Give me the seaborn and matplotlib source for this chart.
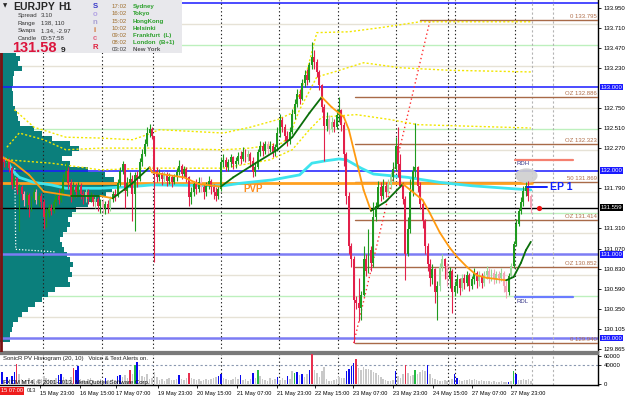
import numpy as np
import pandas as pd
import matplotlib
matplotlib.use("Agg")
import matplotlib.pyplot as plt
import matplotlib.transforms as mtrans
from matplotlib.patches import Rectangle, Ellipse
import seaborn as sns

sns.set_theme(style="white")
plt.rcParams["font.family"] = ["Liberation Sans", "DejaVu Sans"]

# ---------------- data ----------------
open0 = 132.20
close = [132.15,132.10,132.13,132.03,131.83,131.91,131.77,131.80,131.72,131.65,
         131.71,131.59,131.67,131.75,131.65,131.70,131.63,131.45,131.50,131.56,
         131.52,131.62,131.70,131.65,131.74,131.90,132.00,131.85,131.70,131.80,
         131.75,131.82,131.72,131.68,131.74,131.66,131.70,131.62,131.66,131.58,
         131.62,131.56,131.60,131.55,131.66,131.72,131.70,131.85,132.00,132.08,
         131.76,131.85,131.90,131.72,131.95,131.90,132.10,132.20,132.32,132.45,
         132.50,132.42,132.00,131.92,131.97,131.90,131.95,131.88,131.93,131.86,
         131.92,131.98,132.06,131.96,132.02,131.92,131.68,131.74,131.84,131.78,
         131.86,131.80,131.74,131.82,131.88,131.80,131.74,131.70,131.78,132.10,
         132.13,132.05,132.10,132.16,132.08,132.12,132.18,132.14,132.22,132.16,
         132.20,132.12,131.98,132.05,132.22,132.30,132.24,132.32,132.26,132.30,
         132.22,132.28,132.45,132.60,132.52,132.42,132.36,132.46,132.68,132.80,
         132.92,132.86,133.05,133.14,133.08,133.26,133.36,133.30,133.18,133.02,
         132.76,132.54,132.62,132.50,132.58,132.52,132.66,132.72,132.55,132.20,
         131.70,131.10,130.95,130.46,130.42,130.36,130.52,130.95,130.80,131.05,
         130.90,131.45,131.58,131.80,131.70,131.82,131.74,131.84,131.92,132.02,
         132.30,132.08,131.82,131.66,131.00,131.30,131.75,132.00,132.04,131.82,
         131.60,131.40,131.10,130.88,130.72,130.82,130.55,130.62,130.85,130.95,
         130.86,130.70,130.80,130.55,130.62,130.70,130.60,130.72,130.66,130.75,
         130.62,130.70,130.78,130.68,130.74,130.66,130.75,130.80,130.72,130.78,
         130.70,130.76,130.72,130.78,130.62,130.55,130.74,130.86,131.12,131.36,
         131.52,131.62,131.76,131.82,131.70,131.56]
high = [132.24,132.18,132.17,132.15,132.06,131.95,131.93,131.84,131.83,131.76,
        131.74,131.73,131.70,131.79,131.78,131.74,131.73,131.66,131.56,131.60,
        131.60,131.66,131.76,131.78,131.79,131.96,132.10,132.05,131.90,131.86,
        131.85,131.86,131.85,131.76,131.78,131.78,131.75,131.72,131.70,131.68,
        131.66,131.66,131.64,131.65,131.70,131.76,131.78,131.90,132.05,132.12,
        132.08,131.92,131.98,131.95,131.98,132.00,132.15,132.26,132.38,132.52,
        132.56,132.52,132.42,132.04,132.02,131.99,132.00,131.98,131.97,131.95,
        131.96,132.03,132.13,132.08,132.06,132.04,131.94,131.80,131.88,131.90,
        131.92,131.92,131.84,131.86,131.94,131.90,131.84,131.80,131.82,132.16,
        132.20,132.16,132.14,132.20,132.18,132.16,132.22,132.24,132.28,132.26,
        132.25,132.22,132.16,132.10,132.26,132.36,132.34,132.36,132.36,132.35,
        132.33,132.32,132.52,132.68,132.64,132.56,132.48,132.52,132.74,132.86,
        132.98,132.98,133.10,133.20,133.22,133.30,133.54,133.44,133.34,133.20,
        133.04,132.80,132.70,132.66,132.64,132.62,132.74,132.88,132.74,132.58,
        132.22,131.74,131.14,130.98,130.50,130.72,130.56,131.10,131.00,131.30,
        131.10,131.62,131.62,131.88,131.86,131.90,131.86,131.90,131.98,132.10,
        132.40,132.52,132.20,131.86,131.70,131.45,131.90,132.06,132.57,132.06,
        131.86,131.64,131.42,131.14,130.94,130.88,130.84,130.68,130.90,131.00,
        130.96,130.90,130.85,130.82,130.68,130.76,130.72,130.76,130.76,130.80,
        130.78,130.74,130.84,130.80,130.80,130.78,130.80,130.86,130.84,130.82,
        130.82,130.80,130.80,130.84,130.80,130.68,130.78,130.90,131.16,131.42,
        131.56,131.68,131.82,131.86,131.88,131.72]
low = [132.08,132.05,132.04,131.98,131.78,131.80,131.72,131.28,131.65,131.58,
       131.55,131.45,131.52,131.62,131.60,131.58,131.55,131.30,131.33,131.45,
       131.47,131.50,131.58,131.60,131.62,131.72,131.88,131.78,131.62,131.66,
       131.68,131.70,131.66,131.60,131.63,131.60,131.62,131.58,131.55,131.52,
       131.50,131.50,131.48,131.50,131.52,131.62,131.64,131.68,131.82,131.96,
       131.55,131.70,131.80,131.40,131.28,131.80,131.88,132.06,132.18,132.30,
       132.40,132.38,130.91,131.86,131.88,131.83,131.86,131.82,131.84,131.80,
       131.84,131.88,131.95,131.90,131.92,131.86,131.58,131.60,131.70,131.72,
       131.74,131.74,131.66,131.70,131.78,131.72,131.66,131.64,131.66,131.76,
       132.04,132.00,132.00,132.05,132.02,132.03,132.08,132.08,132.12,132.10,
       132.12,132.05,131.92,131.94,132.02,132.18,132.18,132.20,132.20,132.22,
       132.16,132.18,132.24,132.40,132.46,132.36,132.30,132.32,132.44,132.62,
       132.76,132.80,132.84,133.00,133.02,133.06,133.22,133.22,133.12,132.96,
       132.70,132.12,132.48,132.44,132.46,132.46,132.50,132.58,132.48,132.06,
       131.60,131.00,130.85,129.94,130.35,130.20,130.22,130.50,130.74,130.78,
       130.80,130.85,131.40,131.55,131.64,131.66,131.68,131.72,131.78,131.88,
       132.00,131.92,131.80,131.60,130.69,130.98,131.25,131.70,131.92,131.74,
       131.54,131.32,131.00,130.80,130.62,130.64,130.42,130.22,130.56,130.80,
       130.70,130.62,130.60,130.30,130.50,130.54,130.52,130.56,130.58,130.62,
       130.56,130.58,130.64,130.60,130.62,130.60,130.62,130.70,130.66,130.68,
       130.64,130.66,130.66,130.68,130.55,130.48,130.52,130.72,130.84,131.10,
       131.34,131.48,131.58,131.70,131.64,131.50]

# tick volume (thousands) and SonicR PV class: g=normal, b=rising, r=climax bear, G=climax bull
volume_k = [25,10,15,12,18,26,42,22,12,8, 10,14,9,11,7,10,12,18,14,12,
            9,10,13,20,22,15,12,10,16,34, 30,38,12,10,8,11,14,9,7,10,
            12,8,14,10,8,12,10,18,20,15, 20,14,31,22,40,48,30,18,16,22,
            12,14,26,15,10,12,8,12,14,10, 9,11,20,12,10,14,24,14,12,9,
            11,8,10,12,9,11,14,16,18,22, 14,12,10,9,12,15,12,20,10,11,
            8,12,24,14,30,18,12,10,8,13, 9,12,16,10,14,9,18,12,28,24,
            26,20,22,16,22,30,66,30,24,15, 28,37,12,8,6,10,12,16,14,14,
            28,33,38,46,53,35,31,37,33,32, 30,27,24,20,15,12,10,8,7,10,
            28,18,14,22,40,24,18,20,30,22, 26,30,28,40,22,14,12,10,8,7,
            9,6,10,12,22,14,10,8,9,10, 11,9,12,10,8,9,7,8,6,5,
            6,4,5,6,4,5,4,6,28,22, 10,9,11,10,12,8]
volume_kind = ("bgbgbbrggg" "gggggggggg" "gggbbggggr" "bbgggggggg" "ggbggggbbg"
               "ggrgGbgggg" "gggggggggg" "ggbgggrggg" "ggggggggbb" "gggggggbgg"
               "ggbgGggggg" "ggbgggbggG" "bgbggbrggg" "gggggggggg" "bbbbrggggg"
               "gggggggggg" "bgggrgggGg" "gggbgggggg" "ggggbbgggg" "gggggggggg"
               "ggggggbgGb" "gggggg")

# volume-at-price profile (left histogram)
profile_start, profile_step = 129.98, 0.06
profile_vol = [10,10,12,13,18,22,28,35,42,48, 55,70,68,72,70,73,70,67,64,62,
               60,63,67,70,68,72,76,88,100,106, 112,117,114,105,88,70,62,72,79,70,
               52,42,34,20,18,17,15,13,13,13, 12,13,13,14,22,18,20,16,12,10]

# moving averages / bands (bar index, price)
ema_idx = [0,5,11,17,28,40,45,53,60,61,67,74,80,89,94,102,112,118,125,130,134,139,141,
           145,147,150,156,163,166,171,174,178,182,185,189,193,197,205,208,211,213,215]
ema_val = [132.16,132.09,131.95,131.75,131.70,131.70,131.67,131.85,132.04,131.98,131.95,
           131.92,131.84,131.81,131.92,132.07,132.25,132.40,132.69,132.88,132.76,132.64,
           132.49,132.01,131.77,131.52,131.63,131.84,131.77,131.65,131.49,131.26,131.08,
           130.97,130.85,130.75,130.72,130.69,130.73,130.90,131.05,131.15]
cyan_idx = [0,2,4,7,13,20,26,40,53,61,90,97,110,121,126,132,137,140,146,151,165,178,191,205,215]
cyan_val = [132.16,132.13,132.01,131.92,131.86,131.83,131.79,131.79,131.81,131.83,131.82,
            131.85,131.89,131.95,132.09,132.12,132.14,132.13,132.03,131.96,131.92,131.86,
            131.82,131.79,131.77]
band_up_idx = [5,13,26,40,53,59,64,90,101,112,118,123,128,141,154,170,215]
band_up_val = [132.73,132.52,132.40,132.39,132.37,132.43,132.49,132.45,132.52,132.61,
               132.69,133.08,133.65,133.66,133.71,133.78,133.78]
band_mid_idx = [2,7,17,26,40,60,90,101,114,117,121,128,135,147,162,182,215]
band_mid_val = [132.28,132.45,132.37,132.25,132.27,132.27,132.25,132.27,132.33,132.43,
                132.73,133.12,133.18,133.29,133.23,133.20,133.18]
band_lo_idx = [2,20,40,60,90,109,118,125,130,144,158,169,215]
band_lo_val = [132.13,132.09,132.01,132.03,132.03,132.13,132.25,132.49,132.64,132.67,
               132.61,132.55,132.51]

# levels
round_levels = [134.0, 133.0, 132.0]
round_levels_soft = [131.0, 130.0]
half_levels = [133.5, 132.5, 131.5, 130.5]
quarter_levels = [133.75, 133.25, 132.75, 132.25, 131.75, 131.25, 130.75, 130.25]
last_price = 131.559
pvp_price = 131.855
ep1_price = 131.80
rdh_price, rdl_price = 132.13, 130.49
fib_prices = [133.795, 132.886, 132.323, 131.869, 131.414, 130.852, 129.940]
fib_labels = ["0 133.795", "OZ 132.886", "OZ 132.323", "50 131.869", "OZ 131.414",
              "OZ 130.852", "0 129.940"]
fib_start = [170, 143.5, 143.5, 143.5, 143.5, 143.5, 143.5]
fib_base = ([143, 174], [129.94, 133.795])
day_breaks = [16.5, 40.5, 61.5, 89, 112.5, 136.5, 160, 181.5, 184, 208.5]
future_marks = [215.5, 224]
price_ticks = [133.950, 133.710, 133.470, 133.230, 132.750, 132.510, 132.270, 131.790,
               131.310, 131.070, 130.830, 130.590, 130.350, 130.105, 129.865]
time_tick_bars = [15.5, 31.7, 46.5, 63.4, 79.3, 95.5, 111.8, 127.2, 142.7, 158.9, 175.2, 191, 206.9]
time_tick_labels = ["15 May 23:00", "16 May 15:00", "17 May 07:00", "19 May 23:00",
                    "20 May 15:00", "21 May 07:00", "21 May 23:00", "22 May 15:00",
                    "23 May 07:00", "23 May 23:00", "24 May 15:00", "27 May 07:00",
                    "27 May 23:00"]

# ---------------- figure ----------------
W, H = 625, 398
FS = 4.3
FSX = 4.1
fig = plt.figure(figsize=(W / 100, H / 100), dpi=100)
fig.patch.set_facecolor("white")
ax = fig.add_axes([0, (H - 352) / H, 598 / W, 352 / H])
axv = fig.add_axes([0, (H - 385) / H, 598 / W, (385 - 354) / H], sharex=ax)
XMIN, XMAX = -0.8, 242.3
ax.set_xlim(XMIN, XMAX)
ax.set_ylim(129.833, 134.040)
axv.set_ylim(-1500, 64000)
for a in (ax, axv):
    a.set_facecolor("white")
    a.grid(False)
    for s in a.spines.values():
        s.set_visible(False)

n = len(close)
idx = np.arange(n)
c = np.array(close)
o = np.concatenate([[open0], c[:-1]])
h = np.maximum.reduce([np.array(high), o, c])
l = np.minimum.reduce([np.array(low), o, c])
vol = np.array(volume_k) * 1000.0
kinds = np.array(list(volume_kind))

# level lines
for p in quarter_levels:
    ax.axhline(p, color="#e6e2d6", lw=1.0, zorder=1)
for p in half_levels:
    ax.axhline(p, color="#bdf0bd", lw=1.0, zorder=1)

# volume profile
prof_levels = profile_start + profile_step * np.arange(len(profile_vol))
ax.barh(prof_levels, np.array(profile_vol) / 2.46, left=XMIN, height=profile_step,
        color="#0b7f7c", linewidth=0, zorder=2)
ax.plot([5.2, 5.6, 21.5], [132.03, 131.06, 131.03], color="white", ls=(0, (1, 1.5)),
        lw=0.9, zorder=3)

for p in round_levels:
    ax.axhline(p, color="#1a1aff", lw=1.1, zorder=2)
for p in round_levels_soft:
    ax.axhline(p, color="#7c7cf4", lw=1.8, zorder=2)

# day separators
for d in day_breaks:
    for a in (ax, axv):
        a.axvline(d, color="#222222", ls=(0, (1.2, 2.2)), lw=0.8, zorder=2)
for d in future_marks:
    for a in (ax, axv):
        a.axvline(d, color="#b4b4b4", ls=(0, (2, 2)), lw=0.8, zorder=2)

# fibonacci levels
for p, lab, s in zip(fib_prices, fib_labels, fib_start):
    ax.plot([s, XMAX], [p, p], color="#a86a48", lw=1.0, zorder=3)
    ax.text(241.8, p + 0.012, lab, ha="right", va="bottom", fontsize=FS,
            color="#b06e4a", zorder=6)
ax.plot(fib_base[0], fib_base[1], color="#ff3030", ls=(0, (1, 2)), lw=1.0, zorder=3)

# PVP, price lines
ax.plot([XMIN, 215.5], [pvp_price, pvp_price], color="#ffa020", lw=2.0, zorder=3)
ax.text(98, pvp_price - 0.02, "PVP", color="#ff8c1a", fontsize=7, fontweight="bold",
        ha="left", va="top", zorder=6)
ax.axhline(last_price, color="#000000", lw=1.0, zorder=3)

# yellow bands
for xi, yv in ((band_up_idx, band_up_val), (band_mid_idx, band_mid_val), (band_lo_idx, band_lo_val)):
    sns.lineplot(x=xi, y=yv, ax=ax, color="#f2e600", lw=1.0, linestyle=(0, (1.5, 1.5)),
                 estimator=None, sort=False, zorder=3)

# cyan MA
sns.lineplot(x=cyan_idx, y=cyan_val, ax=ax, color="#3ee4ee", lw=2.0, estimator=None,
             sort=False, zorder=4)

# candles
bull = c >= o
pale = (kinds == "g") & (np.array(volume_k) < 9)
col = np.where(bull, np.where(pale, "#98d898", "#1f9a1f"), np.where(pale, "#f3a3b6", "#e2204a"))
ax.vlines(idx, l, h, colors=col, lw=0.8, zorder=5)
body = np.where(np.abs(c - o) < 0.006, 0.006, c - o)
ax.bar(idx, body, bottom=o, width=0.8, color=col, linewidth=0, zorder=5)

# trend EMA coloured by slope
ev = np.array(ema_val)
for k in range(len(ema_idx) - 1):
    up = ev[k + 1] >= ev[k]
    sns.lineplot(x=ema_idx[k:k + 2], y=ema_val[k:k + 2], ax=ax,
                 color="#0a6e0a" if up else "#ff9a10", lw=1.3, estimator=None,
                 sort=False, zorder=6)

# RDH / RDL
ax.plot([208.5, 232], [rdh_price, rdh_price], color="#f58070", lw=1.6, zorder=4)
ax.text(209.3, rdh_price - 0.02, "RDH", fontsize=FS, color="#3a3a8a", va="top", zorder=6)
ax.plot([208.5, 232], [rdl_price, rdl_price], color="#6a7cff", lw=1.6, zorder=4)
ax.text(209.3, rdl_price - 0.02, "RDL", fontsize=FS, color="#3a3a8a", va="top", zorder=6)

# EP 1 area
ax.add_patch(Ellipse((213.2, 131.94), 8.5, 0.16, color="#cfcfcf", alpha=0.9, zorder=4))
ax.plot([213.5, 221.5], [ep1_price, ep1_price], color="#1020ff", lw=1.4, zorder=6)
ax.text(222.6, ep1_price, "EP 1", color="#1020ff", fontsize=7.5, fontweight="bold",
        va="center", zorder=6)
ax.scatter([218.3], [last_price], s=14, color="#ee1111", zorder=7, linewidths=0)

# left border
ax.axvline(XMIN + 0.4, color="#7a1212", lw=2.0, zorder=7)

# right price axis
ax.yaxis.tick_right()
ax.set_yticks(price_ticks)
ax.set_yticklabels([f"{p:.3f}" for p in price_ticks])
ax.tick_params(axis="y", right=True, left=False, labelright=True, labelleft=False,
               length=2.5, width=0.6, pad=1.5, labelsize=FS, colors="black")
ax.tick_params(axis="x", bottom=False, labelbottom=False)
ax.spines["right"].set_visible(True)
ax.spines["right"].set_color("black")
ax.spines["right"].set_linewidth(1.0)
ax.spines["bottom"].set_visible(True)
ax.spines["bottom"].set_color("#7a7a7a")
ax.spines["bottom"].set_linewidth(1.6)
tr = mtrans.blended_transform_factory(ax.transAxes, ax.transData)
for p in [133.0, 132.0, 131.0, 130.0]:
    ax.text(1.004, p, f"{p:.3f}", transform=tr, fontsize=FS, color="white", va="center",
            ha="left", bbox=dict(boxstyle="square,pad=0.12", fc="#1a1aff", ec="none"),
            clip_on=False, zorder=8)
ax.text(1.004, last_price, f"{last_price:.3f}", transform=tr, fontsize=FS, color="white",
        va="center", ha="left", bbox=dict(boxstyle="square,pad=0.12", fc="black", ec="none"),
        clip_on=False, zorder=8)

# volume panel
vcol_map = {"g": "#c9c9c9", "b": "#0a0aee", "r": "#e8304e", "G": "#22bb44"}
axv.bar(idx, vol, width=0.62, color=[vcol_map[k] for k in kinds], linewidth=0, zorder=3)
axv.axhline(40000, color="#8a98b0", ls=(0, (2, 2)), lw=0.8, zorder=2)
axv.yaxis.tick_right()
axv.set_yticks([0, 40000, 60000])
axv.set_yticklabels(["0", "40000", "60000"])
axv.tick_params(axis="y", right=True, left=False, labelright=True, labelleft=False,
                length=2.5, width=0.6, pad=1.5, labelsize=FS, colors="black")
axv.set_xticks(time_tick_bars)
axv.set_xticklabels(time_tick_labels)
axv.tick_params(axis="x", bottom=True, length=2.5, width=0.6, pad=1.5, labelsize=FSX,
                colors="black")
for t in axv.get_xticklabels():
    t.set_ha("left")
for side in ("right", "bottom"):
    axv.spines[side].set_visible(True)
    axv.spines[side].set_color("black")
    axv.spines[side].set_linewidth(1.0)
axv.spines["top"].set_visible(True)
axv.spines["top"].set_color("#7a7a7a")
axv.spines["top"].set_linewidth(1.6)
axv.text(0.005, 0.86, "SonicR PV Histogram (20, 10)   Voice & Text Alerts on.",
         transform=axv.transAxes, fontsize=FS, color="#222222", va="center", zorder=6)
axv.text(0.005, 0.08, "FXCM MT4, \u00a9 2001-2013, MetaQuotes Software Corp.",
         transform=axv.transAxes, fontsize=FS, color="#111111", va="center", zorder=6)

def fx(x):
    return x / W

def fy(y):
    return 1 - y / H

# bottom-left date labels (red cursor box hides the start of "15 May 2013")
fig.text(fx(1), fy(391), "15 07:00", fontsize=FSX, va="center", ha="left", color="white",
         bbox=dict(boxstyle="square,pad=0.2", fc="#ee1c1c", ec="none"))
fig.text(fx(27), fy(391), "013", fontsize=FSX, va="center", ha="left")

# info panel
fig.patches.append(Rectangle((0, fy(53)), fx(182), 53 / H, transform=fig.transFigure,
                             facecolor="#e8e8ec", edgecolor="none", zorder=10))
fig.text(fx(3), fy(6), "\u25bc", fontsize=4, va="center", family=["DejaVu Sans"], zorder=11)
fig.text(fx(13), fy(7.5), "EURJPY", fontsize=7.5, fontweight="bold", va="center", zorder=11)
fig.text(fx(58), fy(7.5), "H1", fontsize=7.5, fontweight="bold", va="center", zorder=11)
for yy, k, v in ((15.5, "Spread", "3.10"), (23, "Range", "138, 110"), (30.5, "Swaps", "1.34, -2.97"),
                 (38, "Candle", "00:57:58")):
    fig.text(fx(18), fy(yy), k, fontsize=4.4, color="#333333", va="center", zorder=11)
    fig.text(fx(41), fy(yy), v, fontsize=4.4, color="#333333", va="center", zorder=11)
fig.text(fx(12), fy(52.5), "131.58", fontsize=10.5, fontweight="bold", color="#dc143c",
         va="baseline", zorder=11)
fig.text(fx(61), fy(52.5), "9", fontsize=6, fontweight="bold", color="#222222",
         va="baseline", zorder=11)
for yy, ch, cc in ((7, "S", "#3636c8"), (15, "o", "#b4a4e4"), (23, "n", "#a8a0d4"),
                   (31, "i", "#d07434"), (39, "c", "#e06684"), (47.5, "R", "#e0203e")):
    fig.text(fx(95), fy(yy), ch, fontsize=5.6, fontweight="bold", color=cc, va="center",
             ha="center", zorder=11)
sessions = [("17:02", "Sydney"), ("16:02", "Tokyo"), ("15:02", "HongKong"),
            ("10:02", "Helsinki"), ("09:02", "Frankfurt  (L)"), ("08:02", "London  (B+1)"),
            ("03:02", "New York")]
for k, (tm, city) in enumerate(sessions):
    yy = 6.7 + k * 7.2
    last = k == len(sessions) - 1
    fig.text(fx(112), fy(yy), tm, fontsize=4.4, color="#444444" if last else "#a07030",
             va="center", zorder=11)
    fig.text(fx(133), fy(yy), city, fontsize=4.4, color="#555555" if last else "#2ca02c",
             fontweight="bold", va="center", zorder=11)

fig.savefig("out.png", dpi=100, facecolor="white")
